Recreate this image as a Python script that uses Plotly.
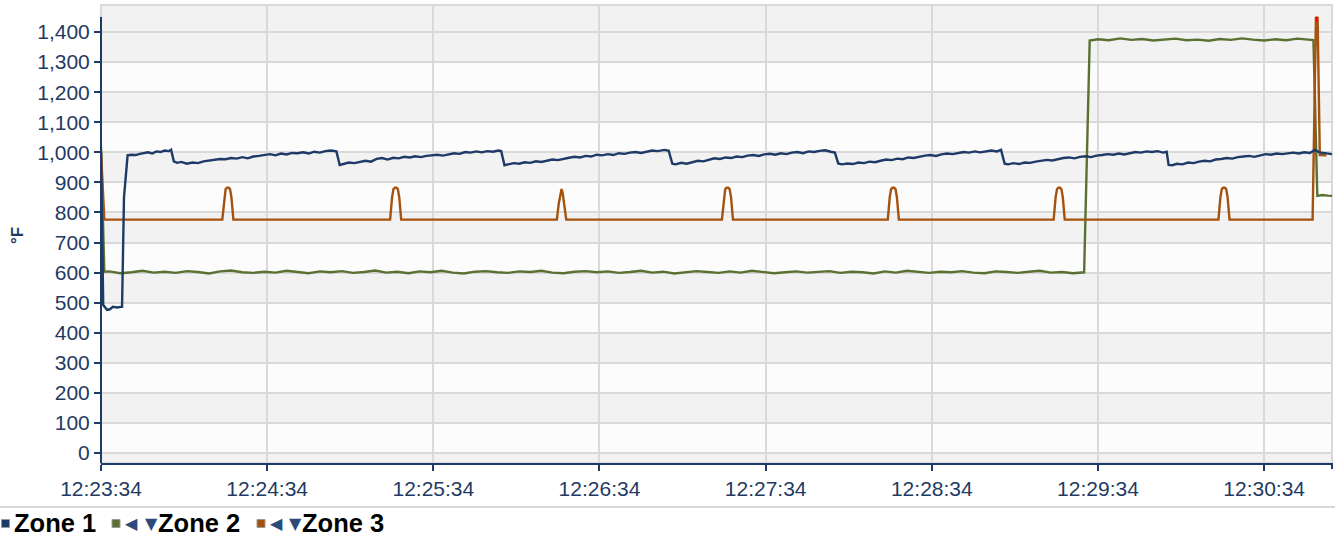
import pandas as pd
import plotly.graph_objects as go

BASE = "2024-01-01 12:23:34"

# ---------------- data (seconds after 12:23:34, °F) ----------------
zone1_t = [0, 0.8, 2.2, 3.2, 4.3, 5.8, 7.2, 7.6, 8.3, 9.6,
           11, 12.5, 14, 15.5, 17, 18.5, 20, 21.5, 23, 24.5, 25.3, 26.3,
           27.5, 29, 31, 33, 35, 37, 39, 41, 43, 45, 47, 49, 51, 53, 55, 57, 59, 61, 63, 65,
           67, 69, 71, 73, 75, 77, 79, 81, 83, 85, 86.2,
           87.5, 89.5, 91.5, 93.5, 95.5, 97.5, 99.5, 101.5, 103.5, 105.5, 107.5, 109.5, 111.5,
           113.5, 115.5, 117.5, 119.5, 121.5, 123.5, 125.5, 127.5, 129.5, 131.5, 133.5, 135.5,
           137.5, 139.5, 141.5, 143.5, 144.5, 145.7,
           147, 149, 151, 153, 155, 157, 159, 161, 163, 165, 167, 169, 171, 173, 175, 177, 179,
           181, 183, 185, 187, 189, 191, 193, 195, 197, 199, 201, 203.5, 205, 206.3,
           207.5, 209.5, 211.5, 213.5, 215.5, 217.5, 219.5, 221.5, 223.5, 225.5, 227.5, 229.5,
           231.5, 233.5, 235.5, 237.5, 239.5, 241.5, 243.5, 245.5, 247.5, 249.5, 251.5, 253.5,
           255.5, 257.5, 259.5, 261.5, 263.5, 265, 266.2,
           267.5, 269.5, 271.5, 273.5, 275.5, 277.5, 279.5, 281.5, 283.5, 285.5, 287.5, 289.5,
           291.5, 293.5, 295.5, 297.5, 299.5, 301.5, 303.5, 305.5, 307.5, 309.5, 311.5, 313.5,
           315.5, 317.5, 319.5, 321.5, 323.5, 325, 326.3,
           327.5, 329.5, 331.5, 333.5, 335.5, 337.5, 339.5, 341.5, 343.5, 345.5, 347.5, 349.5,
           351.5, 353.5, 355.5, 357.5, 359.5, 361.5, 363.5, 365.5, 367.5, 369.5, 371.5, 373.5,
           375.5, 377.5, 379.5, 381.5, 383.5, 384.8, 385.5,
           386.8, 388.5, 390.5, 392.5, 394.5, 396.5, 398.5, 400.5, 402.5, 404.5, 406.5, 408.5,
           410.5, 412.5, 414.5, 416.5, 418.5, 420.5, 422.5, 424.5, 426.5, 428.5, 430.5, 432.5,
           434.5, 436.5, 438.3, 440, 442, 444.5]
zone1_v = [1000, 492, 476, 478, 486, 484, 486, 486, 850, 990,
           992, 991, 995, 997, 1000, 996, 1003, 1001, 1006, 1004, 1009, 970,
           965, 968, 962, 966, 964, 970, 972, 975, 978, 977, 981, 979, 984, 980, 986, 988, 992, 994, 990, 996,
           993, 998, 997, 1000, 996, 1002, 999, 1004, 1006, 1003, 958,
           962, 966, 964, 968, 972, 969, 978, 981, 976, 982, 980, 985, 983,
           987, 984, 988, 990, 992, 989, 994, 997, 995, 1001, 999, 1003,
           1000, 1004, 1002, 1006, 1004, 957,
           960, 964, 962, 967, 965, 970, 968, 973, 976, 974, 979, 982, 985, 983, 988, 986, 992,
           990, 994, 991, 997, 995, 999, 1001, 998, 1003, 1006, 1004, 1008, 1005, 962,
           960, 965, 962, 968, 972, 970, 976, 980, 978, 983, 981, 986,
           984, 989, 991, 988, 993, 995, 992, 997, 994, 999, 1001, 997,
           1003, 1001, 1005, 1007, 1002, 999, 963,
           960, 963, 961, 966, 964, 969, 967, 972, 976, 974, 979, 977,
           983, 981, 986, 989, 991, 988, 993, 996, 994, 998, 1001, 999,
           1003, 1000, 1004, 1006, 1003, 1008, 962,
           960, 964, 961, 966, 965, 969, 972, 975, 973, 978, 981, 983,
           980, 985, 987, 984, 989, 991, 994, 992, 996, 993, 998, 1001,
           999, 1003, 1001, 1004, 999, 1002, 958,
           957, 962, 960, 966, 964, 969, 972, 970, 976, 978, 981, 979,
           984, 986, 988, 985, 990, 994, 992, 996, 994, 997, 999, 996,
           1000, 998, 1008, 1000, 997, 994]

zone2_t = [0, 1.2, 3, 7, 11, 15, 19, 23, 27, 31, 35, 39, 43, 47, 51, 55, 59, 63, 67, 71,
           75, 79, 83, 87, 91, 95, 99, 103, 107, 111, 115, 119, 123, 127, 131, 135, 139, 143,
           147, 151, 155, 159, 163, 167, 171, 175, 179, 183, 187, 191, 195, 199, 203, 207, 211,
           215, 219, 223, 227, 231, 235, 239, 243, 247, 251, 255, 259, 263, 267, 271, 275, 279,
           283, 287, 291, 295, 299, 303, 307, 311, 315, 319, 323, 327, 331, 335, 339, 343, 347,
           351, 355, 357, 360, 364, 368, 372, 376, 380, 384, 388, 392, 396, 400, 404, 408, 412,
           416, 420, 424, 428, 432, 436, 437.8, 439.2, 441, 443, 444.5]
zone2_v = [1019, 603, 604, 598, 601, 606, 600, 603, 599, 605, 602, 597, 604, 607, 601, 599, 603, 600, 606, 602,
           598, 604, 601, 605, 599, 602, 607, 600, 603, 598, 604, 601, 606, 600, 597, 603, 605, 601,
           599, 604, 602, 606, 600, 598, 603, 605, 601, 604, 599, 602, 606, 600, 603, 597, 601,
           605, 602, 599, 604, 600, 606, 603, 598, 601, 604, 600, 602, 605, 599, 603, 601, 597,
           604, 600, 606, 602, 599, 603, 601, 605, 600, 598, 604, 602, 599, 603, 606, 600, 602,
           598, 601, 1372, 1376, 1373, 1379, 1374, 1377, 1372, 1376, 1378, 1373, 1375, 1371, 1377, 1374, 1379,
           1375, 1372, 1376, 1373, 1378, 1376, 1373, 855, 858, 856, 855]

zone3_t = [0, 1.2,
           43.8, 44.5, 45.0, 45.5, 46.1, 46.6, 47.1, 47.8,
           104.4, 105.1, 105.6, 106.1, 106.7, 107.2, 107.7, 108.4,
           164.6, 165.3, 165.9, 166.3, 166.7, 167.3, 168.0,
           224.2, 224.9, 225.4, 225.9, 226.5, 227.0, 227.5, 228.2,
           284.1, 284.8, 285.3, 285.8, 286.4, 286.9, 287.4, 288.1,
           344.0, 344.7, 345.2, 345.7, 346.3, 346.8, 347.3, 348.0,
           403.5, 404.2, 404.7, 405.2, 405.8, 406.3, 406.8, 407.5,
           437.5, 438.7, 439.3, 440.1, 442.5]
zone3_v = [1002, 776,
           776, 850, 878, 882, 882, 878, 850, 776,
           776, 850, 878, 882, 882, 878, 850, 776,
           776, 830, 865, 878, 865, 830, 776,
           776, 850, 878, 882, 882, 878, 850, 776,
           776, 850, 878, 882, 882, 878, 850, 776,
           776, 850, 878, 882, 882, 878, 850, 776,
           776, 850, 878, 882, 882, 878, 850, 776,
           776, 1447, 1447, 991, 990]

peak_t = [438.6, 439.4]
peak_v = [1443, 1443]

y_ticks = list(range(0, 1500, 100))
legend_names = ["Zone 1", "Zone 2", "Zone 3"]

# ---------------- styles ----------------
C1, C2, C3 = "#1e3a66", "#5b7133", "#a5520e"
NAVY = "#1f3a63"
GRID = "#d9d9d9"
BAND = "#f2f2f2"
FONT = "Liberation Sans, Arial, sans-serif"

W, H = 1335, 537
L, R, T, B = 101, 3, 5, 74
PW, PH = W - L - R, H - T - B
Y0, Y1 = -33.3, 1490
T_MAX = 444.5


def tx(t):
    return pd.Timestamp(BASE) + pd.to_timedelta(t, unit="s")


def px(xp):
    return (xp - L) / PW


def py(yp):
    return (H - B - yp) / PH


fig = go.Figure()
for tt, vv, col in [(zone2_t, zone2_v, C2), (zone3_t, zone3_v, C3), (zone1_t, zone1_v, C1)]:
    fig.add_trace(go.Scatter(x=tx(tt), y=vv, mode="lines",
                             line=dict(color=col, width=2.4), hoverinfo="skip",
                             showlegend=False))
fig.add_trace(go.Scatter(x=tx(peak_t), y=peak_v, mode="lines",
                         line=dict(color="#ff0000", width=5), hoverinfo="skip",
                         showlegend=False))

shapes = []
# alternating bands
bands = [(Y0, 0)] + [(v, v + 100) for v in range(100, 1300, 200)] + [(1300, Y1)]
for a, b in bands:
    shapes.append(dict(type="rect", xref="paper", yref="y", x0=0, x1=1, y0=a, y1=b,
                       fillcolor=BAND, line=dict(width=0), layer="below"))
# plot border
shapes.append(dict(type="rect", xref="paper", yref="paper", x0=0, x1=1, y0=0, y1=1,
                   line=dict(color=GRID, width=2), layer="below"))
# y axis line
shapes.append(dict(type="line", xref="paper", yref="y", x0=0, x1=0, y0=Y0, y1=1450,
                   line=dict(color=C1, width=2), layer="above"))
# end tick on x axis
shapes.append(dict(type="line", xref="paper", yref="paper", x0=1, x1=1, y0=0, y1=-6 / PH,
                   line=dict(color=C1, width=2), layer="above"))
# separator above legend
shapes.append(dict(type="line", xref="paper", yref="paper", x0=px(0), x1=px(W), y0=py(507), y1=py(507),
                   line=dict(color=GRID, width=2)))

annotations = []
legend_items = [
    (C1, 1.5, None, 13),
    (C2, 112, (131.5, 151), 157),
    (C3, 257, (276, 295), 301),
]
for (col, sqx, tri, textx), name in zip(legend_items, legend_names):
    shapes.append(dict(type="rect", xref="paper", yref="paper",
                       x0=px(sqx), x1=px(sqx + 8), y0=py(527.5), y1=py(519.5),
                       fillcolor=col, line=dict(color="#9a9a9a", width=1)))
    if tri:
        for cx, sym in zip(tri, ["◀", "▼"]):
            annotations.append(dict(xref="paper", yref="paper", x=px(cx), y=py(523.5),
                                    text=sym, showarrow=False, xanchor="center", yanchor="middle",
                                    font=dict(family="DejaVu Sans", size=16, color="#2c4a7a")))
    annotations.append(dict(xref="paper", yref="paper", x=px(textx - 1), y=py(523),
                            text="<b>%s</b>" % name, showarrow=False, xanchor="left",
                            yanchor="middle", font=dict(family=FONT, size=25.5, color="#000000")))

annotations.append(dict(xref="paper", yref="paper", x=px(17), y=py(236), text="<b>°F</b>",
                        textangle=-90, showarrow=False, xanchor="center", yanchor="middle",
                        font=dict(family=FONT, size=17, color=NAVY)))

fig.update_layout(
    width=W, height=H,
    margin=dict(l=L, r=R, t=T, b=B, pad=0),
    paper_bgcolor="#ffffff", plot_bgcolor="#fcfcfc",
    font=dict(family=FONT, color=NAVY),
    shapes=shapes, annotations=annotations,
    showlegend=False,
    xaxis=dict(type="date", range=[tx(0), tx(T_MAX)], tickformat="%H:%M:%S",
               dtick=60000, tick0=tx(0), showgrid=True, gridcolor=GRID, gridwidth=2,
               showline=True, linecolor=C1, linewidth=2, ticks="outside", ticklen=6,
               tickwidth=1.5, tickcolor=C1, tickfont=dict(size=21, color=NAVY),
               zeroline=False, fixedrange=True),
    yaxis=dict(range=[Y0, Y1], tickvals=y_ticks, tickformat=",d", showgrid=True,
               gridcolor=GRID, gridwidth=2, showline=False, ticks="outside", ticklen=6,
               tickwidth=2, tickcolor=C1, tickfont=dict(size=21, color=NAVY),
               zeroline=False, fixedrange=True),
)

fig.write_html("out.html", config={"displayModeBar": False},
               post_script="document.body.style.margin='0';document.body.style.padding='0';"
                           "document.body.style.overflow='hidden';")
